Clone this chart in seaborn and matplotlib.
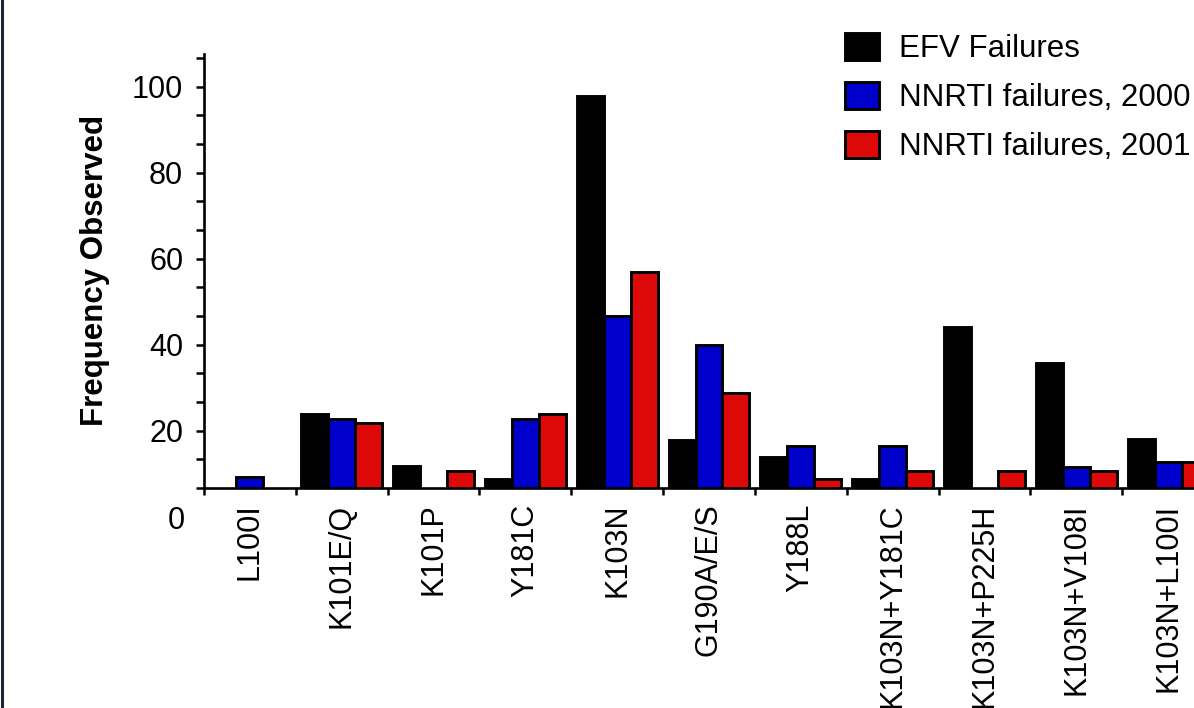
import numpy as np
import pandas as pd
import seaborn as sns
import matplotlib.pyplot as plt
import matplotlib.transforms as mtransforms
from matplotlib.lines import Line2D
from matplotlib.ticker import FixedLocator

mutations = ["L100I", "K101E/Q", "K101P", "Y181C", "K103N", "G190A/E/S",
             "Y188L", "K103N+Y181C", "K103N+P225H", "K103N+V108I", "K103N+L100I"]
efv_failures = [0, 23.9, 11.7, 8.8, 97.8, 17.8, 13.8, 8.8, 44.0, 35.6, 18.0]
nnrti_2000 = [9.3, 22.7, 0, 22.7, 46.6, 40.0, 16.5, 16.5, 0, 11.6, 12.7]
nnrti_2001 = [0, 21.7, 10.6, 23.9, 56.8, 28.8, 8.7, 10.5, 10.5, 10.6, 12.7]
series_names = ["EFV Failures", "NNRTI failures, 2000", "NNRTI failures, 2001"]
series_colors = ["#000000", "#0000CC", "#DD0808"]
y_tick_labels = [20, 40, 60, 80, 100]

df = pd.DataFrame({
    "mutation": mutations * 3,
    "freq": efv_failures + nnrti_2000 + nnrti_2001,
    "group": np.repeat(series_names, len(mutations)),
})

sns.set_style("ticks")
plt.rcParams["font.family"] = ["Liberation Sans", "DejaVu Sans"]
plt.rcParams["text.color"] = "black"
plt.rcParams["xtick.labelcolor"] = "black"
plt.rcParams["ytick.labelcolor"] = "black"
plt.rcParams["axes.labelcolor"] = "black"

W, H = 1194, 708
fig = plt.figure(figsize=(W / 100, H / 100), dpi=100)
ax = fig.add_axes([204 / W, 1 - 488.3 / H, 1010 / W, 434 / H])

sns.barplot(data=df, x="mutation", y="freq", hue="group", hue_order=series_names,
            palette=series_colors, saturation=1, width=0.88, errorbar=None,
            edgecolor="black", linewidth=2.1, ax=ax)

ax.set_xlim(-0.5, 10.5)
ax.set_ylim(6.56, 107.5)

# y axis: labelled majors, minor ticks every 20/3
ax.yaxis.set_major_locator(FixedLocator(y_tick_labels))
ax.yaxis.set_minor_locator(FixedLocator(np.arange(1, 17) * 20 / 3))
ax.tick_params(axis="y", which="both", direction="out", length=6, width=1.8,
               color="black", labelsize=22, pad=9)
zero_tr = mtransforms.offset_copy(ax.get_yaxis_transform(), fig=fig, x=0, y=-4, units="dots")
ax.text(-0.0188, 0, "0", transform=zero_tr, ha="right", va="center", fontsize=22)

# x axis: labels at group centres, small ticks at group boundaries
ax.tick_params(axis="x", which="major", length=0, labelsize=22, pad=11,
               labelrotation=90)
ax.xaxis.set_minor_locator(FixedLocator(np.arange(len(mutations) + 1) - 0.5))
ax.tick_params(axis="x", which="minor", direction="out", length=5, width=1.8,
               color="black")
for lab in ax.get_xticklabels():
    lab.set_va("top")

for side in ["top", "right"]:
    ax.spines[side].set_visible(False)
for side in ["left", "bottom"]:
    ax.spines[side].set_linewidth(1.9)
    ax.spines[side].set_color("black")

ax.set_xlabel("")
ax.set_ylabel("Frequency Observed", fontsize=22.5, fontweight="bold", va="center")
ax.yaxis.set_label_coords(-(204 - 95) / 1010, 0.503)

handles, labels = ax.get_legend_handles_labels()
ax.legend(handles, labels, loc="upper left", bbox_to_anchor=(845 / W, 1 - 33 / H),
          bbox_transform=fig.transFigure, frameon=False, fontsize=22.5,
          handlelength=1.09, handleheight=0.96, handletextpad=0.64,
          labelspacing=0.56, borderpad=0, borderaxespad=0)

fig.add_artist(Line2D([1.5 / W, 1.5 / W], [0, 1], transform=fig.transFigure,
                      color="#1c2531", lw=2.2))

fig.savefig("out.png", dpi=100)
